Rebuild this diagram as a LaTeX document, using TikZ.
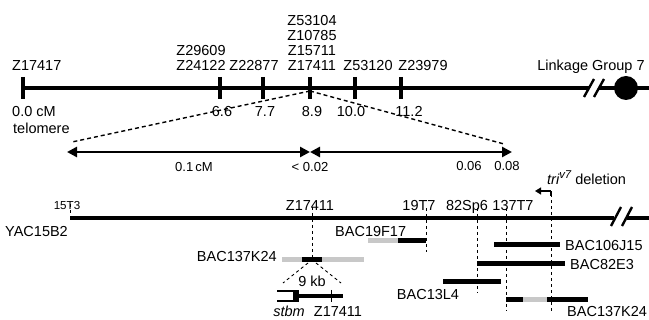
\documentclass[tikz,border=0pt]{standalone}
\usepackage{fontspec}
\setmainfont{Liberation Sans}
\usetikzlibrary{arrows.meta,positioning,calc}
\definecolor{bacgray}{HTML}{C8C8C8}
\newcommand{\numtext}[1]{\scalebox{0.9}{#1}}

\begin{document}
\begin{tikzpicture}[x=1pt, y=-1pt, >=Triangle,
  font=\fontsize{14.5pt}{15.2pt}\selectfont,
  every node/.style={inner sep=0pt},
  chrom/.style={line width=4pt},
  marktick/.style={line width=3.5pt},
  brk/.style={line width=2.4pt},
  guide/.style={dashed, line width=0.9pt},
  zoomline/.style={dash pattern=on 4pt off 3pt, line width=1.4pt},
  cmspan/.style={<->, line width=2.6pt, >={Triangle[length=10pt,width=10pt]}},
  bac/.style={line width=5pt},
  bacpart/.style={line width=5pt, bacgray}]
\useasboundingbox (0,0) rectangle (649,320);

% linkage group 7
\draw[chrom] (23,88) -- (589,88) (599,88) -- (649,88);
\draw[brk] (584,97) -- (594,79) (594,97) -- (604,79);
\fill (626,88) circle (12pt);
\foreach \x/\nm in {23/m0,220/m1,263/m2,310/m3,355/m4,401/m5} {
  \coordinate (\nm) at (\x,88);
  \draw[marktick] (\x,77) -- (\x,99);
}
\node[anchor=base west] (z17417) at (12,71) {Z17417};
\node[anchor=south, align=center] (z24122) at (201,71) {Z29609\\Z24122};
\node[anchor=base] (z22877) at (254,71) {Z22877};
\node[anchor=south, align=center] (z17411) at (312,71) {Z53104\\Z10785\\Z15711\\Z17411};
\node[anchor=base] (z53120) at (368,71) {Z53120};
\node[anchor=base] (z23979) at (423,71) {Z23979};
\node[anchor=base] (lg7) at (591,71) {Linkage Group 7};

\node[anchor=base west] (cm0) at (12,117) {0.0 cM};
\node[anchor=base west] (telo) at (13,134) {telomere};
\foreach \x/\v in {222/6.6,265/7.7,312/8.9,351/10.0,409/11.2}
  \node[anchor=base] (cm\v) at (\x,117) {\v};

% expanded interval
\coordinate (exl) at (72,142);
\coordinate (exr) at (504,144);
\draw[zoomline] ($(m3)+(0,3)$) -- (exl);
\draw[zoomline] ($(m3)+(0,3)$) -- (exr);
\coordinate (al) at (67,152);
\coordinate (am) at (310,152);
\coordinate (ar) at (512,152);
\draw[cmspan] (al) -- (am);
\draw[cmspan] (am) -- (ar);
\node[anchor=base] (d1) at (194,172) {\numtext{0.1\,cM}};
\node[anchor=base] (d2) at (310,172) {\numtext{<~0.02}};
\node[anchor=base] (d3) at (469,171) {\numtext{0.06}};
\node[anchor=base] (d4) at (507,171) {\numtext{0.08}};

% YAC / BAC contig
\draw[line width=3.2pt] (70,218) -- (614,218) (627,218) -- (649,218);
\draw[brk] (611,226) -- (621,207) (622,226) -- (632,207);
\node[anchor=base west] (yac) at (5,237) {YAC15B2};
\node[anchor=base] (t15) at (67,210) {\scalebox{0.8}{15T3}};
\node[anchor=base] (zb) at (310,211) {Z17411};
\node[anchor=base] (t19) at (419,211) {19T7};
\node[anchor=base] (sp82) at (467,211) {82Sp6};
\node[anchor=base] (t137) at (513,211) {137T7};
\draw[guide] (70,204) -- (70,214);
\draw[guide] (312,207) -- (312,258);
\draw[guide] (426,208) -- (426,252);
\draw[guide] (477,208) -- (477,293);
\draw[guide] (506,208) -- (506,311);

% triv7 deletion
\coordinate (del) at (551,311);
\coordinate (delt) at (551,191);
\draw[guide] (del) -- ($(delt)+(0,5)$);
\draw[line width=1.2pt] ($(delt)+(0,5)$) -- (delt);
\draw[-{Triangle[length=6pt,width=7pt]}, line width=1.2pt] (delt) -- (535,191);
\node[anchor=base west] (dlbl) at (547,185)
  {\itshape tri\raisebox{6pt}{\scalebox{0.78}{v7}}\upshape\ deletion};

% BAC clones
\draw[bacpart] (368,241) -- (398,241);
\draw[bac] (398,241) -- (426,241);
\node[anchor=base west] (b19) at (335,237) {BAC19F17};
\draw[bacpart] (282,260) -- (364,260);
\draw[bac] (302,260) -- (322,260);
\node[anchor=base east] (b137a) at (277,262) {BAC137K24};
\draw[bac] (494,245) -- (560,245);
\node[anchor=base west] (b106) at (565,251) {BAC106J15};
\draw[bac] (477,264) -- (565,264);
\node[anchor=base west] (b82) at (570,270) {BAC82E3};
\draw[bac] (443,282) -- (501,282);
\node[anchor=base] (b13) at (428,300) {BAC13L4};
\draw[bac] (506,300) -- (588,300);
\draw[bacpart] (523,300) -- (547,300);
\node[anchor=base west] (b137b) at (567,317) {BAC137K24};

% stbm region
\draw[guide] (308,263) -- (283,283);
\draw[guide] (316,263) -- (341,283);
\node[anchor=base] (kb) at (312,287) {9 kb};
\draw[line width=1.2pt] (277,291) -- (296,291) (277,301) -- (296,301);
\fill (293,290.4) rectangle (299,301.6);
\draw[line width=3.5pt] (299,296) -- (343,296);
\draw[line width=0.8pt] (331,290) -- (331,302);
\node[anchor=base] (stbm) at (289,317) {\itshape stbm};
\node[anchor=base] (zs) at (338,317) {Z17411};
\end{tikzpicture}
\end{document}
